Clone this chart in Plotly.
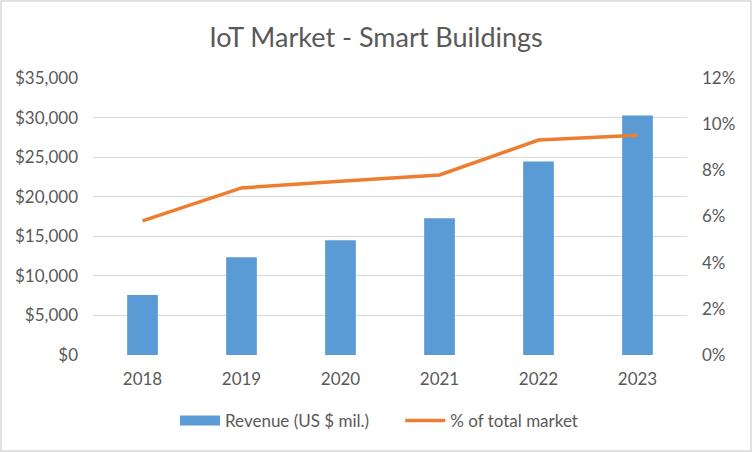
import plotly.graph_objects as go

years = ["2018", "2019", "2020", "2021", "2022", "2023"]
revenue = [7570, 12360, 14500, 17280, 24460, 30260]
pct_total = [0.0581, 0.0724, 0.0753, 0.0780, 0.0931, 0.0952]

W, H = 752, 452
L, R, T, B = 93, 65, 78, 97

fig = go.Figure()
fig.add_trace(go.Bar(x=years, y=revenue, name="Revenue (US $ mil.)",
                     marker=dict(color="#5B9BD5", line=dict(width=0)),
                     width=0.31, yaxis="y", showlegend=False))
# legend-only entry to mimic the wide rectangle swatch
fig.add_trace(go.Scatter(x=[None], y=[None], name="Revenue (US $ mil.)      ",
                         mode="lines", line=dict(color="#5B9BD5", width=10),
                         yaxis="y"))
fig.add_trace(go.Scatter(x=years, y=pct_total, name="% of total market",
                         mode="lines", line=dict(color="#ED7D31", width=3.5),
                         yaxis="y2"))

font_color = "#595959"
fig.update_layout(
    width=W, height=H,
    margin=dict(l=L, r=R, t=T, b=B, autoexpand=False),
    paper_bgcolor="white", plot_bgcolor="white",
    font=dict(family="Lato, Open Sans, sans-serif", color=font_color, size=17),
    title=dict(text="IoT Market - Smart Buildings", x=0.5, xanchor="center",
               y=1 - 38 / H, yanchor="middle",
               font=dict(size=27, color=font_color)),
    xaxis=dict(showgrid=False, showline=False, ticks="", tickfont=dict(size=17),
               ticklabelstandoff=12, automargin=False),
    yaxis=dict(range=[0, 35000], dtick=5000, tickprefix="$", tickformat=",d",
               showgrid=True, gridcolor="#D9D9D9", gridwidth=1,
               zeroline=False, ticks="", ticklabelstandoff=14, automargin=False),
    yaxis2=dict(range=[0, 0.12], dtick=0.02, tickformat=".0%", overlaying="y",
                side="right", showgrid=False, zeroline=False, ticks="",
                ticklabelstandoff=14, automargin=False),
    legend=dict(orientation="h", x=(379 - L) / (W - L - R), xanchor="center",
                y=-(421 - 355) / (H - T - B),
                yanchor="middle", font=dict(size=17), traceorder="normal",
                itemwidth=40),
    showlegend=True,
    bargap=0.69,
)

pw = W - L - R
ph = H - T - B
fig.add_shape(type="rect", xref="paper", yref="paper",
              x0=(1 - L) / pw, x1=(W - 1 - L) / pw,
              y0=-(H - 1 - T - ph) / ph, y1=1 + (T - 1) / ph,
              line=dict(color="#D9D9D9", width=1.5), layer="below")

fig.write_html("out.html", config={"displayModeBar": False},
               post_script="document.body.style.margin='0';document.body.style.padding='0';")
